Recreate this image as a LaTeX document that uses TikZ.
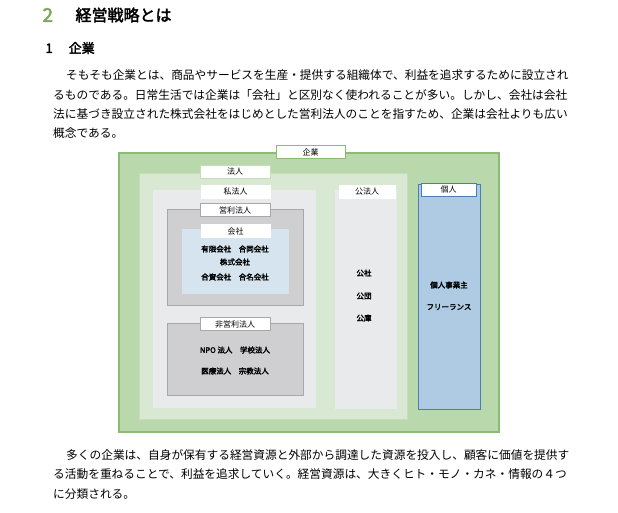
\documentclass[tikz,border=0pt]{standalone}
\usepackage{fontspec}
\setmainfont[AutoFakeBold=2.5]{Noto Sans CJK JP}
\usepackage{tikz}
\usetikzlibrary{positioning}
\definecolor{gOut}{HTML}{B9D8AC}
\definecolor{gOutLine}{HTML}{8CBB78}
\definecolor{gIn}{HTML}{D8E8D2}
\definecolor{gPriv}{HTML}{E9EAEC}
\definecolor{gProf}{HTML}{CFCFD1}
\definecolor{gProfLine}{HTML}{A8A8AA}
\definecolor{bComp}{HTML}{D5E4EE}
\definecolor{bInd}{HTML}{AECBE3}
\definecolor{bIndLine}{HTML}{4B7CB8}
\definecolor{headG}{HTML}{7BA85C}
\tikzset{tab/.style={draw=gray!40,fill=white,minimum height=13pt,inner sep=0pt,font=\fontsize{8}{8}\selectfont},
         item/.style={font=\fontsize{7.5}{8}\selectfont\bfseries},
         para/.style={anchor=west,inner sep=0pt,font=\fontsize{11.7}{12}\selectfont}}
\begin{document}
\begin{tikzpicture}[x=1pt,y=-1pt]
    \useasboundingbox (0,0) rectangle (618,512);
    % headings
    \node[anchor=west,font=\fontsize{19}{19}\selectfont\bfseries,text=headG] (num) at (39,15) {2};
    \node[anchor=west,font=\fontsize{16}{16}\selectfont\bfseries] (ttl) at (72,15) {経営戦略とは};
    \node[anchor=west,font=\fontsize{13}{13}\selectfont\bfseries] (sec) at (42,48) {1\hspace{16pt}企業};
    % paragraph
    \node[para] (p1) at (66,75) {そもそも企業とは、商品やサービスを生産・提供する組織体で、利益を追求するために設立され};
    \node[para] (p2) at (53,95) {るものである。日常生活では企業は「会社」と区別なく使われることが多い。しかし、会社は会社};
    \node[para] (p3) at (53,114) {法に基づき設立された株式会社をはじめとした営利法人のことを指すため、企業は会社よりも広い};
    \node[para] (p4) at (53,133) {概念である。};

    % boxes
    \draw[gOutLine,fill=gOut,line width=1.2pt] (119,153) rectangle (499,432);
    \draw[gOutLine!50,fill=gIn] (139,173) rectangle (407,419);
    \draw[gIn,fill=gPriv] (152,189) rectangle (316,408);
    \draw[gProfLine,fill=gProf,line width=1pt] (167,209) rectangle (303,305);
    \draw[bComp,fill=bComp] (182,229) rectangle (288,293);
    \draw[gProfLine,fill=gProf,line width=1pt] (167,323) rectangle (303,395);
    \draw[gIn,fill=gPriv] (334,189) rectangle (397,409);
    \draw[bIndLine,fill=bInd,line width=1pt] (418,184) rectangle (480,409);

    % tabs
    \node[tab,draw=gOutLine,minimum width=69pt] (kigyo) at (310.5,152) {企業};
    \node[tab,draw=gOutLine!50,minimum width=70pt] (hojin) at (235,171.5) {法人};
    \node[tab,draw=white,minimum width=69pt] (shi) at (235.5,191.5) {私法人};
    \node[tab,draw=gProfLine,minimum width=70pt] (eiri) at (235,210) {営利法人};
    \node[tab,draw=white,minimum width=69pt] (kaisha) at (235.5,231) {会社};
    \node[tab,draw=gProfLine,minimum width=70pt] (hieiri) at (235,324) {非営利法人};
    \node[tab,draw=white,minimum width=56pt] (ko) at (367,191.5) {公法人};
    \node[tab,draw=bIndLine,minimum width=55pt] (kojin) at (448.5,189.5) {個人};

    % items
    \node[item] (k1) at (235,249) {有限会社\quad 合同会社};
    \node[item] (k2) at (235,262) {株式会社};
    \node[item] (k3) at (235,277) {合資会社\quad 合名会社};
    \node[item] (n1) at (235,350) {NPO 法人\quad 学校法人};
    \node[item] (n2) at (235,371) {医療法人\quad 宗教法人};
    \node[item] (o1) at (364,273) {公社};
    \node[item] (o2) at (364,296) {公団};
    \node[item] (o3) at (364,318) {公庫};
    \node[item] (i1) at (449,285) {個人事業主};
    \node[item] (i2) at (449,307) {フリーランス};

    % paragraph below
    \node[para] (q1) at (66,455) {多くの企業は、自身が保有する経営資源と外部から調達した資源を投入し、顧客に価値を提供す};
    \node[para] (q2) at (53,474) {る活動を重ねることで、利益を追求していく。経営資源は、大きくヒト・モノ・カネ・情報の４つ};
    \node[para] (q3) at (53,494) {に分類される。};
\end{tikzpicture}
\end{document}
